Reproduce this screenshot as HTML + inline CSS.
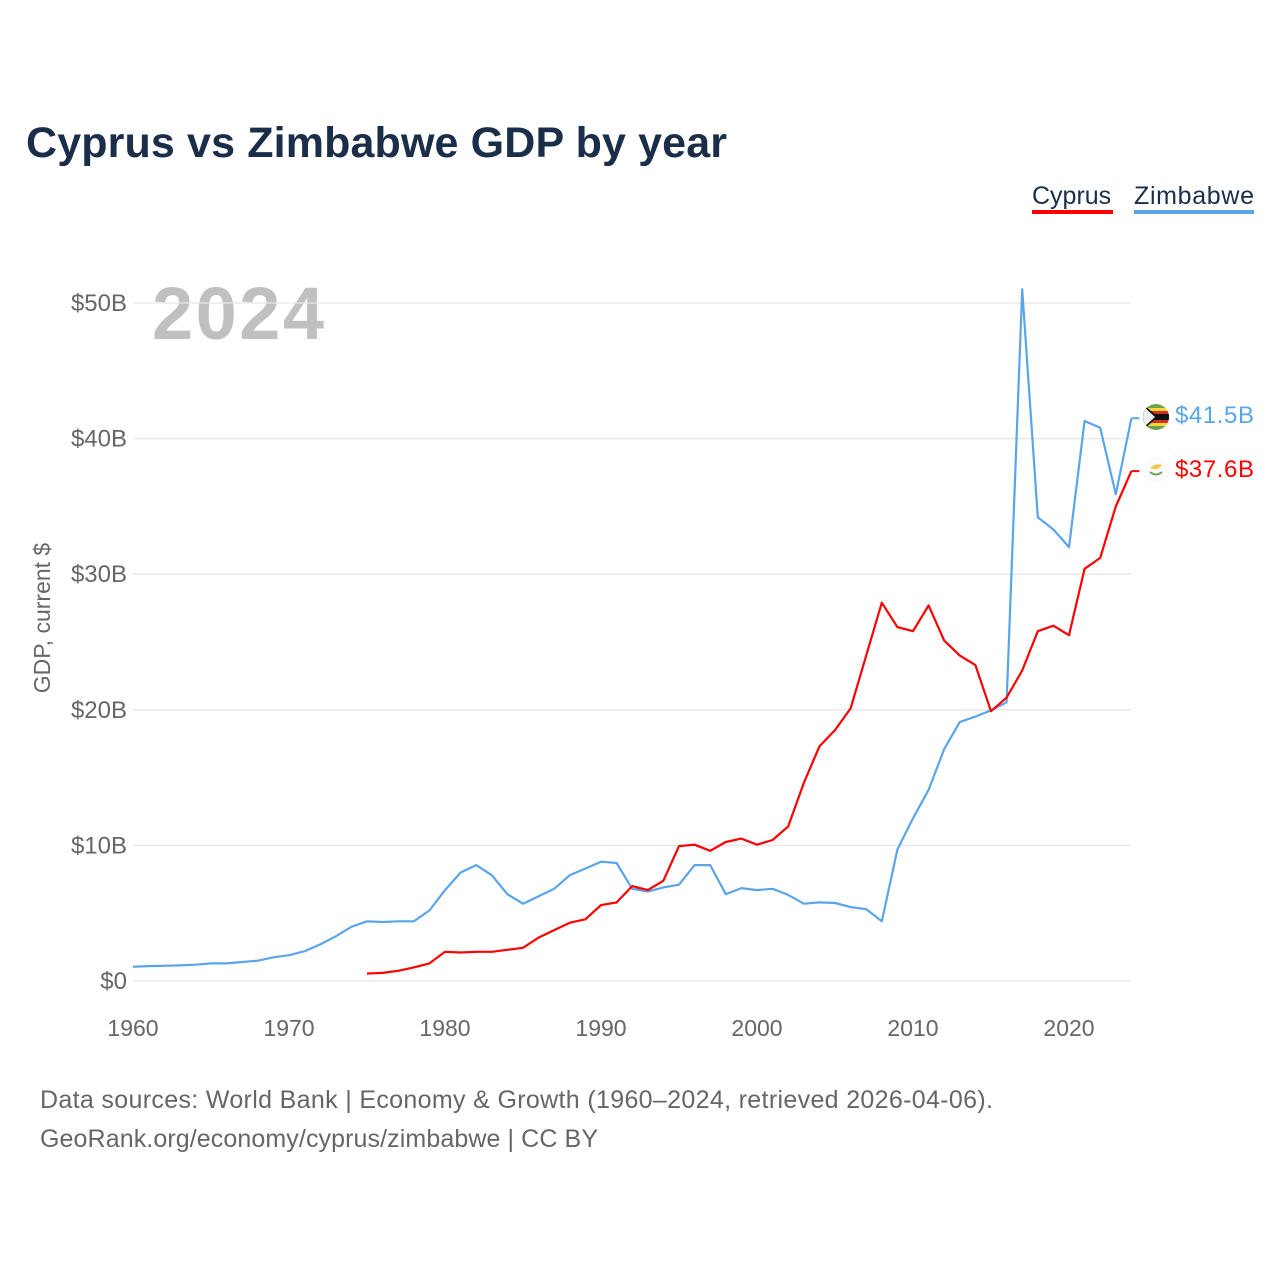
<!DOCTYPE html>
<html><head><meta charset="utf-8"><style>
body{margin:0;background:#fff;width:1280px;height:1280px;overflow:hidden;font-family:"Liberation Sans",sans-serif}
</style></head><body>
<svg width="1280" height="1280" xmlns="http://www.w3.org/2000/svg">
<text x="26" y="157" font-size="43" font-weight="bold" fill="#1a2e4a" textLength="701">Cyprus vs Zimbabwe GDP by year</text>
<g>
<text x="1032" y="204" font-size="25" fill="#1a2e4a">Cyprus</text>
<rect x="1032" y="210" width="81" height="4" fill="#ff0000"/>
<text x="1134" y="204" font-size="25" fill="#1a2e4a" textLength="120">Zimbabwe</text>
<rect x="1134" y="210" width="120" height="4" fill="#5aa5ea"/>
</g>
<text x="152" y="339" font-size="74" font-weight="bold" fill="#c0c0c0" textLength="172">2024</text>
<g id="grid"></g><g id="xt"></g>
<text transform="translate(50,618) rotate(-90)" text-anchor="middle" font-size="23" fill="#666">GDP, current $</text>
<g id="lines"></g>
<g>
<g>
<clipPath id="cz"><circle cx="1156" cy="417" r="13"/></clipPath>
<g clip-path="url(#cz)"><rect x="1143" y="404" width="26" height="26" fill="#6ba34c"/><rect x="1143" y="408" width="26" height="18" fill="#fdd835"/><rect x="1143" y="411" width="26" height="12" fill="#d32f2f"/><rect x="1143" y="414" width="26" height="6" fill="#111"/><polygon points="1143,404 1158,417 1143,430" fill="#111"/><polygon points="1143,406 1155,417 1143,428" fill="#eee"/></g></g>
<g><circle cx="1156" cy="470" r="13" fill="#fafafa"/><path d="M1150 468 q6 -5 12 -3 q-4 6 -12 3z" fill="#f6c544"/><path d="M1150 472 q6 5 12 0" stroke="#7aa050" stroke-width="2" fill="none"/></g>
<text id="zl" x="1175" y="423" font-size="24" fill="#5aa5ea" textLength="79">$41.5B</text>
<text id="cl" x="1175" y="477" font-size="24" fill="#ff0000" textLength="79">$37.6B</text>
</g>
<text x="40" y="1108" font-size="25" fill="#666" textLength="953">Data sources: World Bank | Economy &amp; Growth (1960–2024, retrieved 2026-04-06).</text>
<text x="40" y="1147" font-size="25" fill="#666" textLength="558">GeoRank.org/economy/cyprus/zimbabwe | CC BY</text>
</svg>
<script>
const yTicks=[0,10,20,30,40,50];
const yTickLabels=["$0","$10B","$20B","$30B","$40B","$50B"];
const xTicks=[1960,1970,1980,1990,2000,2010,2020];
const zimStart=1960;
const zimValues=[1.05,1.1,1.12,1.15,1.2,1.3,1.3,1.4,1.5,1.75,1.9,2.2,2.7,3.3,4.0,4.4,4.35,4.4,4.4,5.2,6.7,8.0,8.55,7.8,6.4,5.7,6.25,6.8,7.8,8.3,8.8,8.7,6.8,6.6,6.9,7.1,8.55,8.55,6.4,6.85,6.7,6.8,6.35,5.7,5.8,5.75,5.45,5.3,4.4,9.7,12.0,14.1,17.1,19.1,19.5,19.96,20.55,51.0,34.2,33.3,32.0,41.3,40.8,35.9,41.5];
const cypStart=1975;
const cypValues=[0.55,0.6,0.75,1.0,1.3,2.15,2.1,2.15,2.15,2.3,2.45,3.2,3.75,4.3,4.55,5.6,5.8,7.0,6.7,7.4,9.95,10.05,9.6,10.25,10.5,10.05,10.4,11.4,14.6,17.3,18.5,20.1,24.0,27.9,26.1,25.8,27.7,25.1,24.0,23.3,19.9,20.9,22.9,25.8,26.2,25.5,30.4,31.2,35.0,37.6];
const NS="http://www.w3.org/2000/svg";
const X=yr=>133+(yr-1960)*15.6;
const Y=v=>981-v*13.56;
function mk(t,a,p){const e=document.createElementNS(NS,t);for(const k in a)e.setAttribute(k,a[k]);p.appendChild(e);return e;}
const grid=document.getElementById('grid');
yTicks.forEach((v,i)=>{
 const l=mk('line',{x1:133,x2:1131,y1:Y(v),y2:Y(v),stroke:'#e6e6e6','stroke-width':1.3},grid);
 
 
 const t=mk('text',{x:127,y:Y(v)+8,'text-anchor':'end','font-size':24,fill:'#666'},grid);
 t.textContent=yTickLabels[i];
 
 
});
const xt=document.getElementById('xt');
xTicks.forEach(yr=>{
 const t=mk('text',{x:X(yr),y:1036,'text-anchor':'middle','font-size':23,fill:'#666'},xt);
 t.textContent=yr;
 
 
});
const lines=document.getElementById('lines');
function series(start,vals,color,name){
 const pts=vals.map((v,i)=>X(start+i).toFixed(1)+','+Y(v).toFixed(1)).join(' ');
 const p=mk('polyline',{points:pts,fill:'none',stroke:color,'stroke-width':2.2,'stroke-linejoin':'round'},lines);
 
 
 const last=vals[vals.length-1],lx=X(start+vals.length-1);
 const c=mk('line',{x1:lx,x2:lx+8,y1:Y(last),y2:Y(last),stroke:color,'stroke-width':2},lines);
 
 
 return last;
}
const zl=series(zimStart,zimValues,'#5aa5ea','zimbabwe-line');
const cl=series(cypStart,cypValues,'#ff0000','cyprus-line');
document.getElementById('zl').textContent='$'+zl.toFixed(1)+'B';
document.getElementById('cl').textContent='$'+cl.toFixed(1)+'B';
</script>
</body></html>
